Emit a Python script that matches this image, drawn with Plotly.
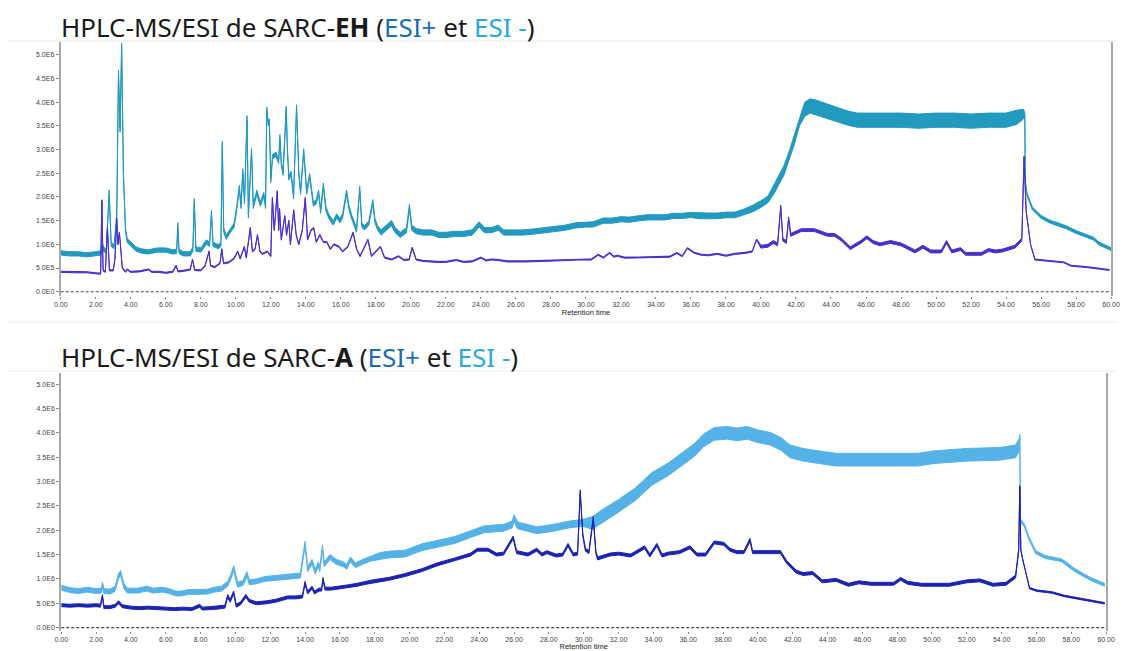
import numpy as np
import plotly.graph_objects as go

# ---------------- data (intensity in units of 1E6 counts) ----------------
# SARC-EH, ESI- (upper trace)
EH_NEG_T = [0.0, 0.5, 1.0, 1.5, 2.0, 2.3, 2.37, 2.45, 2.6, 2.77,
            2.88, 3.05, 3.2, 3.3, 3.39, 3.48, 3.58, 3.7, 3.8, 4.0,
            4.3, 4.6, 5.0, 5.5, 6.0, 6.4, 6.62, 6.69, 6.76, 7.0,
            7.4, 7.55, 7.63, 7.72, 8.0, 8.32, 8.5, 8.61, 8.7, 9.0,
            9.15, 9.23, 9.31, 9.45, 9.7, 9.9, 10.05, 10.2, 10.3, 10.4,
            10.5, 10.64, 10.72, 10.9, 11.0, 11.2, 11.4, 11.6, 11.7, 11.77,
            11.85, 11.92, 12.0, 12.1, 12.3, 12.45, 12.52, 12.6, 12.7, 12.88,
            12.95, 13.03, 13.16, 13.3, 13.47, 13.6, 13.7, 13.88, 14.05, 14.22,
            14.43, 14.6, 14.73, 14.85, 15.0, 15.15, 15.3, 15.57, 15.76, 15.95,
            16.1, 16.33, 16.45, 16.6, 16.9, 17.08, 17.2, 17.36, 17.6, 17.83,
            17.95, 18.1, 18.3, 18.9, 19.1, 19.4, 19.75, 19.92, 20.05, 20.3,
            20.7, 21.2, 21.6, 22.0, 22.5, 23.0, 23.5, 23.9, 24.2, 24.6,
            25.0, 25.3, 25.8, 26.4, 27.0, 27.6, 28.2, 28.8, 29.4, 30.0,
            30.4, 31.0, 31.5, 32.0, 32.5, 33.0, 33.5, 34.0, 34.5, 35.0,
            35.5, 36.0, 36.5, 37.0, 37.5, 38.0, 38.5, 39.0, 39.5, 40.0,
            40.4, 40.8, 41.0, 41.3, 41.6, 41.9, 42.2, 42.5, 42.8, 43.1,
            43.5, 44.0, 44.5, 45.0, 45.5, 46.0, 47.0, 48.0, 49.0, 50.0,
            51.0, 52.0, 53.0, 54.0, 54.6, 55.0, 55.07, 55.1, 55.2, 55.5,
            56.0, 56.5, 57.0, 57.5, 58.0, 58.5, 59.0, 59.3, 60.0]
EH_NEG_V = [0.82, 0.80, 0.80, 0.78, 0.80, 0.82, 1.00, 0.90, 0.85, 2.10,
            1.00, 0.95, 1.60, 4.63, 3.41, 5.20, 2.50, 1.30, 1.08, 1.00,
            0.90, 0.86, 0.84, 0.88, 0.88, 0.84, 0.85, 1.41, 0.85, 0.80,
            0.80, 0.90, 1.92, 0.90, 0.88, 1.05, 1.00, 1.67, 1.00, 0.95,
            1.00, 3.13, 1.30, 1.15, 1.30, 1.40, 1.75, 2.20, 1.80, 2.55,
            1.90, 3.67, 1.60, 2.98, 1.80, 2.10, 1.85, 2.05, 1.80, 3.85,
            3.55, 3.60, 2.35, 2.85, 2.90, 2.75, 3.27, 2.70, 2.50, 3.87,
            3.00, 2.40, 2.50, 2.00, 3.90, 2.50, 2.10, 2.97, 2.10, 2.45,
            1.85, 1.90, 2.10, 1.70, 2.25, 1.75, 1.60, 1.45, 1.60, 1.50,
            1.60, 2.10, 1.80, 1.60, 1.30, 2.18, 1.40, 1.35, 1.45, 1.90,
            1.50, 1.35, 1.25, 1.45, 1.30, 1.20, 1.30, 1.79, 1.35, 1.28,
            1.25, 1.25, 1.20, 1.20, 1.22, 1.22, 1.25, 1.42, 1.30, 1.30,
            1.35, 1.25, 1.25, 1.25, 1.27, 1.30, 1.32, 1.35, 1.40, 1.42,
            1.42, 1.50, 1.50, 1.53, 1.52, 1.55, 1.57, 1.57, 1.57, 1.60,
            1.60, 1.62, 1.60, 1.60, 1.60, 1.62, 1.62, 1.68, 1.75, 1.85,
            1.95, 2.20, 2.35, 2.55, 2.85, 3.20, 3.60, 3.85, 3.92, 3.90,
            3.85, 3.78, 3.72, 3.66, 3.62, 3.62, 3.62, 3.62, 3.60, 3.62,
            3.62, 3.60, 3.62, 3.62, 3.68, 3.75, 3.75, 2.30, 2.05, 1.76,
            1.58, 1.48, 1.42, 1.35, 1.26, 1.19, 1.12, 1.02, 0.90]
EH_NEG_NOISE_EDGES = [0.0, 18.2, 36.2, 39.2, 40.6, 42.35, 54.8, 55.04, 55.09]
EH_NEG_NOISE_HALF = [0.045, 0.055, 0.06, 0.07, 0.1, 0.15, 0.1, 0.02, 0.03]

# SARC-EH, ESI+ (lower trace)
EH_POS_T = [0.0, 0.5, 1.0, 1.5, 2.0, 2.28, 2.35, 2.42, 2.55, 2.67,
            2.78, 3.0, 3.1, 3.2, 3.27, 3.35, 3.52, 3.7, 3.8, 4.0,
            4.5, 5.0, 5.2, 5.6, 6.0, 6.4, 6.59, 6.7, 7.0, 7.4,
            7.53, 7.65, 8.0, 8.25, 8.47, 8.56, 8.8, 9.1, 9.2, 9.3,
            9.6, 9.9, 10.11, 10.25, 10.49, 10.6, 10.83, 10.95, 11.1, 11.24,
            11.38, 11.53, 11.8, 12.0, 12.09, 12.2, 12.37, 12.45, 12.5, 12.6,
            12.8, 12.9, 13.03, 13.12, 13.31, 13.45, 13.6, 13.8, 13.97, 14.1,
            14.3, 14.45, 14.6, 14.8, 15.0, 15.2, 15.4, 15.6, 15.9, 16.1,
            16.4, 16.7, 16.9, 17.1, 17.55, 17.75, 18.0, 18.26, 18.5, 18.9,
            19.3, 19.6, 19.9, 20.08, 20.3, 20.7, 21.5, 22.0, 22.6, 23.0,
            23.5, 24.0, 24.3, 24.6, 25.0, 25.5, 26.5, 27.5, 28.5, 29.5,
            30.3, 30.7, 31.0, 31.35, 31.6, 31.8, 32.2, 33.0, 34.0, 34.8,
            35.2, 35.5, 35.8, 36.2, 36.6, 37.0, 37.5, 38.0, 38.5, 39.1,
            39.5, 39.75, 40.0, 40.4, 40.7, 40.95, 41.13, 41.25, 41.45, 41.58,
            41.7, 42.3, 43.05, 43.4, 43.8, 44.2, 44.6, 45.1, 45.7, 46.05,
            46.4, 46.8, 47.4, 48.0, 48.5, 48.8, 49.25, 49.7, 50.3, 50.6,
            50.9, 51.4, 51.7, 52.6, 53.0, 53.4, 53.8, 54.5, 54.9, 55.03,
            55.15, 55.4, 55.65, 56.4, 57.3, 57.7, 58.6, 59.9]
EH_POS_V = [0.42, 0.42, 0.41, 0.41, 0.39, 0.38, 1.93, 0.45, 0.42, 1.35,
            0.45, 0.45, 0.70, 1.55, 1.00, 1.25, 0.50, 0.42, 0.47, 0.42,
            0.43, 0.47, 0.42, 0.42, 0.40, 0.42, 0.55, 0.43, 0.44, 0.47,
            0.68, 0.46, 0.45, 0.55, 0.85, 0.55, 0.52, 0.60, 0.90, 0.60,
            0.62, 0.70, 0.85, 0.70, 0.95, 0.72, 1.35, 0.85, 0.90, 1.20,
            0.85, 0.80, 0.85, 0.75, 1.98, 1.30, 2.12, 1.30, 1.75, 1.10,
            1.60, 1.20, 1.50, 1.00, 1.72, 1.20, 1.00, 1.30, 1.98, 1.10,
            1.30, 1.35, 1.05, 1.20, 1.05, 1.05, 0.90, 1.00, 0.95, 0.85,
            0.95, 1.25, 0.90, 0.75, 1.10, 0.75, 0.85, 0.95, 0.72, 0.68,
            0.75, 0.67, 0.68, 0.93, 0.68, 0.65, 0.63, 0.63, 0.67, 0.63,
            0.64, 0.72, 0.66, 0.68, 0.67, 0.64, 0.64, 0.65, 0.66, 0.68,
            0.68, 0.78, 0.72, 0.82, 0.74, 0.76, 0.72, 0.72, 0.73, 0.74,
            0.82, 0.75, 0.92, 0.82, 0.78, 0.77, 0.80, 0.76, 0.80, 0.82,
            0.85, 1.10, 0.95, 0.97, 1.05, 1.00, 1.80, 1.10, 1.05, 1.55,
            1.20, 1.30, 1.30, 1.25, 1.20, 1.20, 1.10, 0.92, 1.05, 1.15,
            1.05, 1.00, 1.05, 1.00, 0.90, 0.85, 0.95, 0.85, 0.85, 1.05,
            0.85, 0.90, 0.80, 0.80, 0.88, 0.85, 0.87, 0.95, 1.10, 2.85,
            1.70, 1.00, 0.68, 0.65, 0.62, 0.55, 0.52, 0.46]
EH_POS_NOISE_EDGES = [0.0, 40.0, 55.0]
EH_POS_NOISE_HALF = [0.012, 0.03, 0.01]

# SARC-A, ESI- (upper trace)
A_NEG_T = [0.0, 0.5, 1.0, 1.5, 2.0, 2.3, 2.37, 2.45, 2.8, 3.1,
           3.28, 3.41, 3.6, 3.8, 4.4, 4.9, 5.3, 5.8, 6.2, 6.6,
           6.9, 7.3, 7.9, 8.4, 8.8, 9.2, 9.56, 9.75, 9.9, 10.13,
           10.45, 10.66, 10.8, 11.2, 11.7, 12.2, 12.7, 13.2, 13.73, 14.0,
           14.15, 14.4, 14.58, 14.77, 14.85, 15.0, 15.1, 15.43, 15.8, 16.2,
           16.4, 16.6, 16.9, 17.3, 17.8, 18.3, 18.8, 19.75, 20.7, 21.6,
           22.6, 23.5, 24.3, 25.4, 25.9, 26.0, 26.2, 26.55, 27.3, 28.25,
           29.2, 29.95, 30.5, 31.1, 32.0, 33.0, 33.9, 34.85, 35.8, 36.36,
           36.9, 37.5, 38.25, 38.8, 39.4, 40.0, 40.7, 41.3, 41.85, 42.6,
           43.5, 44.5, 46.0, 47.5, 49.2, 50.1, 52.0, 53.9, 54.8, 55.0,
           55.04, 55.08, 55.3, 55.55, 55.95, 56.5, 57.25, 57.45, 57.7, 58.2,
           59.1, 59.9]
A_NEG_V = [0.82, 0.77, 0.75, 0.78, 0.75, 0.76, 0.88, 0.75, 0.74, 0.80,
           1.05, 1.12, 0.85, 0.76, 0.76, 0.80, 0.76, 0.78, 0.75, 0.70,
           0.70, 0.73, 0.73, 0.74, 0.78, 0.80, 0.90, 1.05, 1.22, 0.88,
           0.92, 1.10, 0.93, 0.95, 1.00, 1.02, 1.03, 1.05, 1.07, 1.72,
           1.20, 1.35, 1.15, 1.30, 1.20, 1.65, 1.30, 1.45, 1.35, 1.30,
           1.25, 1.40, 1.28, 1.35, 1.42, 1.47, 1.50, 1.52, 1.65, 1.72,
           1.80, 1.92, 2.02, 2.05, 2.12, 2.25, 2.10, 2.07, 2.00, 2.05,
           2.12, 2.15, 2.15, 2.30, 2.50, 2.75, 3.05, 3.25, 3.50, 3.65,
           3.85, 3.98, 4.00, 3.97, 4.00, 3.93, 3.88, 3.78, 3.62, 3.55,
           3.50, 3.45, 3.45, 3.45, 3.45, 3.50, 3.55, 3.57, 3.62, 3.75,
           3.95, 2.20, 2.10, 1.85, 1.55, 1.45, 1.40, 1.38, 1.32, 1.18,
           1.00, 0.88]
A_NEG_NOISE_EDGES = [0.0, 18.0, 30.0, 55.02, 55.07]
A_NEG_NOISE_HALF = [0.05, 0.07, 0.13, 0.02, 0.03]

# SARC-A, ESI+ (lower trace)
A_POS_T = [0.0, 0.5, 1.0, 1.5, 2.0, 2.25, 2.37, 2.45, 2.8, 3.1,
           3.3, 3.5, 4.0, 4.5, 5.0, 5.5, 6.0, 6.5, 7.0, 7.5,
           7.95, 8.1, 8.5, 9.0, 9.4, 9.56, 9.7, 9.9, 10.05, 10.3,
           10.6, 10.8, 11.2, 11.8, 12.3, 12.8, 13.0, 13.5, 13.85, 14.0,
           14.15, 14.4, 14.55, 14.8, 14.95, 15.03, 15.15, 15.5, 16.0, 16.5,
           17.0, 17.5, 17.87, 18.8, 19.75, 20.7, 21.6, 22.6, 23.5, 23.9,
           24.5, 25.0, 25.4, 25.95, 26.15, 26.8, 27.3, 27.6, 27.9, 28.4,
           28.8, 29.1, 29.4, 29.65, 29.8, 29.95, 30.1, 30.3, 30.55, 30.7,
           30.8, 31.5, 32.0, 32.7, 33.5, 33.8, 34.2, 34.5, 34.85, 35.5,
           36.1, 36.5, 37.0, 37.5, 38.05, 38.4, 38.8, 39.2, 39.55, 39.7,
           40.5, 41.3, 41.65, 42.2, 42.6, 43.15, 43.7, 44.5, 45.2, 45.8,
           46.5, 47.8, 48.2, 48.6, 49.4, 51.0, 52.0, 52.75, 53.5, 54.25,
           54.8, 54.98, 55.04, 55.1, 55.2, 55.35, 55.6, 56.0, 56.9, 57.6,
           58.6, 59.9]
A_POS_V = [0.46, 0.45, 0.46, 0.45, 0.46, 0.45, 0.65, 0.42, 0.42, 0.45,
           0.52, 0.44, 0.41, 0.40, 0.41, 0.40, 0.39, 0.38, 0.39, 0.38,
           0.45, 0.39, 0.40, 0.41, 0.43, 0.65, 0.55, 0.72, 0.45, 0.50,
           0.65, 0.55, 0.50, 0.52, 0.55, 0.60, 0.62, 0.62, 0.64, 0.92,
           0.72, 0.82, 0.72, 0.78, 0.78, 1.00, 0.80, 0.80, 0.82, 0.85,
           0.88, 0.92, 0.95, 1.00, 1.08, 1.18, 1.30, 1.40, 1.50, 1.60,
           1.60, 1.50, 1.52, 1.85, 1.55, 1.50, 1.60, 1.50, 1.55, 1.48,
           1.50, 1.70, 1.50, 1.52, 2.80, 1.90, 1.60, 1.55, 2.25, 1.55,
           1.42, 1.50, 1.52, 1.48, 1.65, 1.48, 1.70, 1.48, 1.52, 1.55,
           1.65, 1.50, 1.50, 1.75, 1.72, 1.60, 1.55, 1.55, 1.80, 1.55,
           1.55, 1.55, 1.35, 1.15, 1.10, 1.12, 0.95, 0.98, 0.88, 0.93,
           0.90, 0.90, 1.00, 0.92, 0.88, 0.88, 0.95, 0.97, 0.88, 0.90,
           1.05, 1.60, 2.90, 1.60, 1.39, 1.18, 0.81, 0.76, 0.72, 0.65,
           0.58, 0.50]
A_POS_NOISE_EDGES = [0.0, 55.0]
A_POS_NOISE_HALF = [0.03, 0.015]

Y_TICK_VALUES = [0.0, 0.5, 1.0, 1.5, 2.0, 2.5, 3.0, 3.5, 4.0, 4.5, 5.0]
Y_TICK_TEXT = ["0.0E0", "5.0E5", "1.0E6", "1.5E6", "2.0E6", "2.5E6",
               "3.0E6", "3.5E6", "4.0E6", "4.5E6", "5.0E6"]
X_TICK_VALUES = list(range(0, 61, 2))
X_TICK_TEXT = ["%.2f" % v for v in X_TICK_VALUES]

TITLE_EH = ("HPLC-MS/ESI de SARC-<b>EH</b> (<span style='color:#1c6db4'>ESI+</span> et "
            "<span style='color:#2aa8e0'>ESI -</span>)")
TITLE_A = ("HPLC-MS/ESI de SARC-<b>A</b> (<span style='color:#1c6db4'>ESI+</span> et "
           "<span style='color:#2aa8e0'>ESI -</span>)")

COL_EH_NEG = "#2299bf"
COL_EH_POS = "#4a2fcb"
COL_A_NEG = "#55b2e6"
COL_A_POS = "#1b23b0"

SCALE = 1e6


def band(t, v, edges, half):
    t = np.asarray(t, dtype=float)
    v = np.asarray(v, dtype=float) * SCALE
    idx = np.searchsorted(np.asarray(edges), t, side="right") - 1
    w = np.asarray(half)[idx] * SCALE
    hi = v + w
    lo = v - w
    return np.concatenate([t, t[::-1]]), np.concatenate([hi, lo[::-1]])


fig = go.Figure()


def add_series(t, v, edges, half, color, xa, ya):
    x, y = band(t, v, edges, half)
    fig.add_trace(go.Scatter(x=x, y=y, mode="lines", fill="toself",
                             fillcolor=color, line=dict(color=color, width=1),
                             xaxis=xa, yaxis=ya, hoverinfo="skip", showlegend=False))


add_series(EH_NEG_T, EH_NEG_V, EH_NEG_NOISE_EDGES, EH_NEG_NOISE_HALF, COL_EH_NEG, "x", "y")
add_series(EH_POS_T, EH_POS_V, EH_POS_NOISE_EDGES, EH_POS_NOISE_HALF, COL_EH_POS, "x", "y")
add_series(A_NEG_T, A_NEG_V, A_NEG_NOISE_EDGES, A_NEG_NOISE_HALF, COL_A_NEG, "x2", "y2")
add_series(A_POS_T, A_POS_V, A_POS_NOISE_EDGES, A_POS_NOISE_HALF, COL_A_POS, "x2", "y2")

W, H = 1126, 651


def px_x(p):
    return p / W


def px_y(p):
    return 1 - p / H


tick_font = dict(family="Liberation Sans, Arial", size=7, color="#444")
axis_title_font = dict(family="Liberation Sans, Arial", size=7.5, color="#222")
xaxis_common = dict(range=[0, 60], tickvals=X_TICK_VALUES, ticktext=X_TICK_TEXT,
                    showgrid=False, zeroline=False, showline=False,
                    ticks="outside", ticklen=2, tickcolor="#888", tickfont=tick_font)
yaxis_common = dict(tickvals=[v * SCALE for v in Y_TICK_VALUES], ticktext=Y_TICK_TEXT,
                    showgrid=False, zeroline=False, showline=True, linecolor="#a8a8a8",
                    linewidth=2, mirror=True, ticks="outside", ticklen=3, tickcolor="#888",
                    tickfont=tick_font)

fig.update_layout(
    width=W, height=H,
    margin=dict(l=0, r=0, t=0, b=0),
    paper_bgcolor="white", plot_bgcolor="white",
    xaxis=dict(xaxis_common, domain=[px_x(54.5), px_x(1120)], anchor="y",
               title=dict(text="Retention time", standoff=2, font=axis_title_font)),
    yaxis=dict(yaxis_common, domain=[px_y(296), px_y(42)], anchor="x",
               range=[-0.09 * SCALE, 5.27 * SCALE]),
    xaxis2=dict(xaxis_common, domain=[px_x(55), px_x(1115)], anchor="y2",
                title=dict(text="Retention time", standoff=1, font=axis_title_font)),
    yaxis2=dict(yaxis_common, domain=[px_y(631), px_y(373)], anchor="x2",
                range=[-0.07 * SCALE, 5.23 * SCALE]),
    annotations=[
        dict(text=TITLE_EH, x=px_x(53), y=px_y(27), xref="paper", yref="paper",
             xanchor="left", yanchor="middle", showarrow=False,
             font=dict(family="Noto Sans", size=26, color="#1a1a1a")),
        dict(text=TITLE_A, x=px_x(53), y=px_y(357), xref="paper", yref="paper",
             xanchor="left", yanchor="middle", showarrow=False,
             font=dict(family="Noto Sans", size=26, color="#1a1a1a")),
    ],
    shapes=[
        dict(type="line", xref="x", yref="y", x0=0, x1=60, y0=0, y1=0,
             line=dict(color="#444", width=1.2, dash="3px,2px")),
        dict(type="line", xref="x2", yref="y2", x0=0, x1=60, y0=0, y1=0,
             line=dict(color="#444", width=1.2, dash="3px,2px")),
        dict(type="line", xref="paper", yref="paper", x0=0, x1=1, y0=px_y(41), y1=px_y(41),
             line=dict(color="#e8e8e8", width=1)),
        dict(type="line", xref="paper", yref="paper", x0=0, x1=1, y0=px_y(322), y1=px_y(322),
             line=dict(color="#ececec", width=1)),
        dict(type="line", xref="paper", yref="paper", x0=0, x1=1, y0=px_y(371), y1=px_y(371),
             line=dict(color="#ececec", width=1)),
    ],
)

fig.write_html("out.html", config={"displayModeBar": False},
               post_script="document.body.style.margin='0px';")
